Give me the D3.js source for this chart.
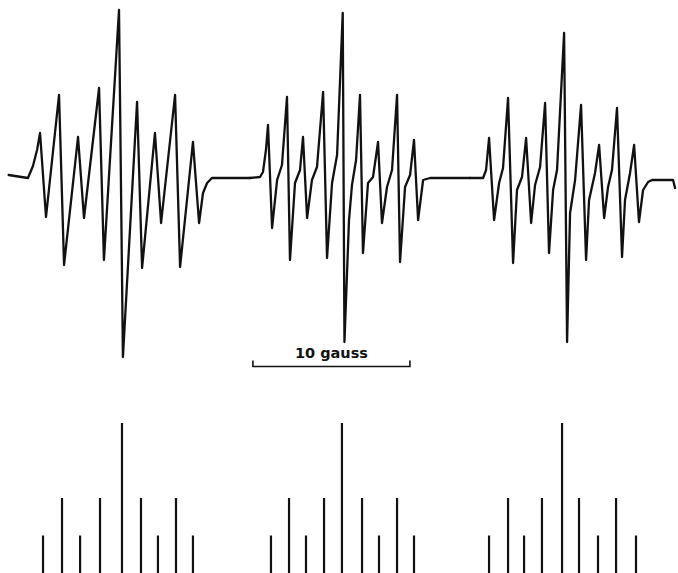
<!DOCTYPE html>
<html>
<head>
<meta charset="utf-8">
<script src="https://cdn.jsdelivr.net/npm/d3@7"></script>
<style>
  html, body { margin: 0; padding: 0; background: #fff; }
  svg { display: block; }
</style>
</head>
<body>
<svg id="chart" width="678" height="573"></svg>
<script>
// ---- Data (field in gauss, derivative signal in arbitrary units) ----
// First-derivative EPR trace, three groups of nine hyperfine lines
const traceField1 = [0.55, 1.78, 2.10, 2.36, 2.55, 2.93, 3.76, 4.08, 4.97, 5.35, 6.31, 6.62, 7.58, 7.83, 8.73, 9.05, 9.87, 10.26, 11.15, 11.47, 12.29, 12.68, 12.93, 13.19, 13.50, 15.92];
const traceSignal1 = [3, 0, 12, 28, 45, -39, 83, -87, 41, -40, 90, -82, 168, -179, 76, -90, 45, -45, 83, -89, 36, -45, -15, -5, 0, 0];

const traceField2 = [15.92, 16.56, 16.75, 16.94, 17.07, 17.33, 17.65, 17.96, 18.28, 18.47, 18.79, 19.11, 19.30, 19.56, 19.87, 20.19, 20.58, 20.83, 21.15, 21.47, 21.83, 21.94, 22.23, 22.42, 22.68, 22.93, 23.12, 23.44, 23.76, 24.08, 24.33, 24.65, 24.97, 25.29, 25.48, 25.80, 26.12, 26.37, 26.63, 26.95, 27.39, 29.94];
const traceSignal2 = [0, 1, 6, 28, 53, -50, -2, 13, 81, -82, -5, 8, 41, -40, -2, 11, 86, -80, -5, 23, 165, -164, -42, -7, 18, 83, -75, -5, 1, 36, -45, -9, 8, 83, -84, -9, 3, 38, -42, -2, 0, 0];

const traceField3 = [29.94, 30.77, 30.96, 31.15, 31.47, 31.79, 32.04, 32.36, 32.68, 32.93, 33.25, 33.51, 33.83, 34.08, 34.40, 34.72, 34.97, 35.23, 35.48, 35.93, 36.12, 36.31, 36.63, 37.01, 37.33, 37.52, 37.90, 38.16, 38.48, 38.73, 38.98, 39.30, 39.62, 39.81, 40.13, 40.39, 40.70, 40.96, 41.28, 41.53, 42.87, 43.00];
const traceSignal3 = [0, 0, 8, 40, -42, -5, 10, 80, -85, -12, 1, 40, -45, -7, 11, 75, -75, -12, 8, 145, -164, -35, -2, 73, -82, -22, 5, 33, -40, -9, 8, 70, -79, -22, 5, 33, -44, -12, -4, -2, -2, -10];

// Stick (line) reconstruction: positions in gauss and relative intensities
const stickField = [
  2.74, 3.95, 5.10, 6.37, 7.77, 8.98, 10.06, 11.21, 12.29,
  17.26, 18.41, 19.49, 20.64, 21.78, 23.06, 24.14, 25.29, 26.37,
  31.15, 32.36, 33.38, 34.52, 35.80, 36.88, 38.09, 39.24, 40.51
];
const stickIntensity = [
  1, 2, 1, 2, 4, 2, 1, 2, 1,
  1, 2, 1, 2, 4, 2, 1, 2, 1,
  1, 2, 1, 2, 4, 2, 1, 2, 1
];

// Scale bar
const scaleBarStart = 16.11;   // gauss
const scaleBarLength = 10;     // gauss
const scaleBarLabel = "10 gauss";

// ---- Drawing ----
const W = 678, H = 573;
const svg = d3.select("#chart");

const x = d3.scaleLinear().domain([0, 43.185]).range([0, W]);
const yTrace = d3.scaleLinear().domain([-180, 170]).range([358, 8]);
const yStick = d3.scaleLinear().domain([0, 4]).range([573, 423]);

const line = d3.line()
  .x(d => x(d[0]))
  .y(d => yTrace(d[1]))
  .curve(d3.curveLinear);

const groups = [
  [traceField1, traceSignal1],
  [traceField2, traceSignal2],
  [traceField3, traceSignal3]
];

groups.forEach(([f, s]) => {
  const pts = f.map((v, i) => [v, s[i]]);
  svg.append("path")
    .datum(pts)
    .attr("d", line)
    .attr("fill", "none")
    .attr("stroke", "#111")
    .attr("stroke-width", 2.3)
    .attr("stroke-linejoin", "round")
    .attr("stroke-linecap", "round");
});

// Scale bar
const sb = svg.append("g");
const x0 = x(scaleBarStart), x1 = x(scaleBarStart + scaleBarLength);
const yb = 366.5;
sb.append("path")
  .attr("d", `M${x0},${yb - 6}V${yb}H${x1}V${yb - 6}`)
  .attr("fill", "none")
  .attr("stroke", "#111")
  .attr("stroke-width", 1.6);
sb.append("text")
  .attr("x", (x0 + x1) / 2)
  .attr("y", 358)
  .attr("text-anchor", "middle")
  .attr("font-family", "'DejaVu Sans', sans-serif")
  .attr("font-weight", "bold")
  .attr("font-size", 14.5)
  .attr("fill", "#111")
  .text(scaleBarLabel);

// Sticks
svg.append("g")
  .selectAll("line")
  .data(stickField.map((f, i) => ({ f, v: stickIntensity[i] })))
  .join("line")
  .attr("x1", d => x(d.f))
  .attr("x2", d => x(d.f))
  .attr("y1", yStick(0))
  .attr("y2", d => yStick(d.v))
  .attr("stroke", "#111")
  .attr("stroke-width", 2.2);
</script>
</body>
</html>
